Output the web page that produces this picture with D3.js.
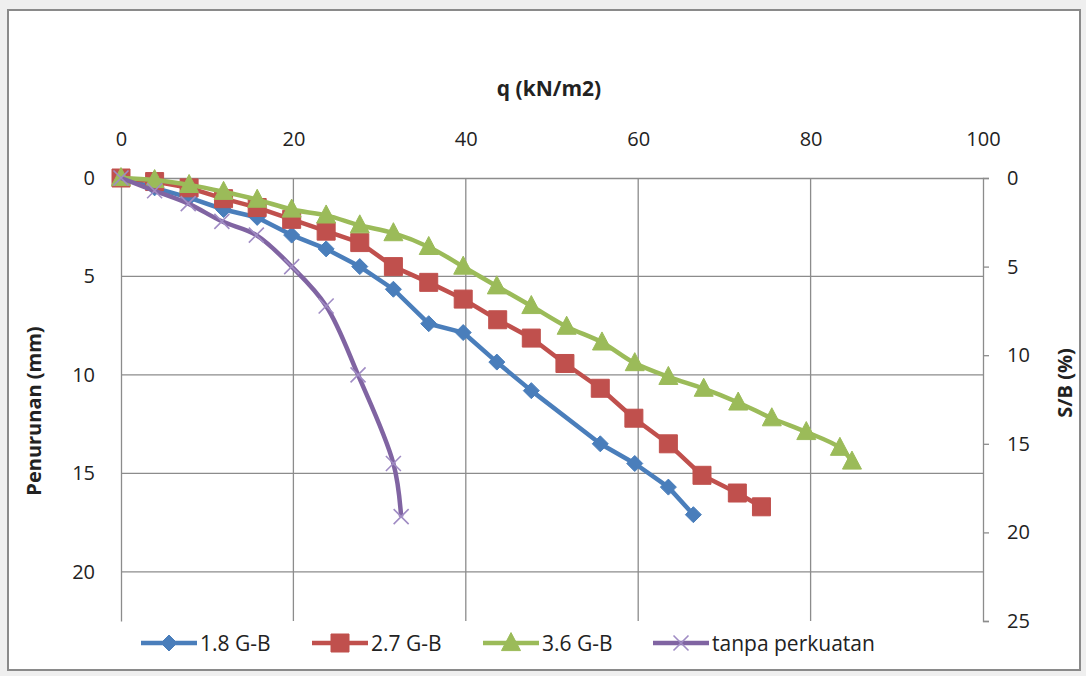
<!DOCTYPE html>
<html><head><meta charset="utf-8">
<script src="https://cdn.jsdelivr.net/npm/d3@7"></script>
<style>
html,body{margin:0;padding:0;background:#efefef;}
svg{display:block;}
text{font-family:"Open Sans",Lato,sans-serif;fill:#222;}
</style></head>
<body>
<svg id="chart" width="1086" height="676"></svg>
<script>
// ---- data ----
const xTicks = [0, 20, 40, 60, 80, 100];
const leftTicks = [0, 5, 10, 15, 20];
const rightTicks = [0, 5, 10, 15, 20, 25];

const q18 = [0, 3.9, 7.9, 11.9, 15.8, 19.8, 23.8, 27.7, 31.6, 35.7, 39.7, 43.6, 47.6, 55.6, 59.6, 63.5, 66.4];
const s18 = [0, 0.5, 1.0, 1.6, 2.0, 2.9, 3.6, 4.5, 5.65, 7.4, 7.85, 9.35, 10.8, 13.5, 14.5, 15.7, 17.1];

const q27 = [0, 3.9, 7.9, 11.9, 15.8, 19.8, 23.8, 27.7, 31.6, 35.7, 39.7, 43.7, 47.6, 51.5, 55.6, 59.5, 63.5, 67.4, 71.5, 74.3];
const s27 = [0, 0.18, 0.5, 1.05, 1.5, 2.1, 2.7, 3.28, 4.5, 5.3, 6.15, 7.2, 8.13, 9.42, 10.68, 12.2, 13.5, 15.1, 16.0, 16.7];

const q36 = [0, 3.9, 7.9, 11.9, 15.8, 19.8, 23.8, 27.7, 31.6, 35.7, 39.7, 43.6, 47.6, 51.7, 55.8, 59.6, 63.5, 67.6, 71.6, 75.5, 79.5, 83.4, 84.8];
const s36 = [0, 0.1, 0.35, 0.7, 1.1, 1.6, 1.9, 2.4, 2.8, 3.5, 4.5, 5.5, 6.5, 7.55, 8.35, 9.4, 10.1, 10.7, 11.4, 12.2, 12.9, 13.7, 14.4];

const qTP = [0, 3.9, 7.8, 11.7, 15.7, 19.8, 23.8, 27.5, 31.6, 32.5];
const sTP = [0, 0.65, 1.3, 2.2, 2.9, 4.5, 6.5, 10.0, 14.5, 17.2];

const seriesNames = ["1.8 G-B", "2.7 G-B", "3.6 G-B", "tanpa perkuatan"];
const seriesColors = ["#4a7ebb", "#c0504d", "#9bbb59", "#8064a2"];
const seriesMarkers = ["diamond", "square", "triangle", "x"];

// ---- layout ----
const svg = d3.select("#chart");
const L = 121, R = 983, T = 178, B = 621;
const x = d3.scaleLinear().domain([0, 100]).range([L, R]);
const yL = d3.scaleLinear().domain([0, 22.5]).range([T, B]);
const yR = d3.scaleLinear().domain([0, 25]).range([T, B]);

// frame
svg.append("rect").attr("x", 8).attr("y", 10).attr("width", 1072).attr("height", 660)
  .attr("fill", "#fff").attr("stroke", "#8a8a8a").attr("stroke-width", 2);

const gridColor = "#8c8c8c";
const tickFont = 20;
// gridlines
svg.append("g").selectAll("line").data(leftTicks.filter(d => d > 0)).join("line")
  .attr("x1", L).attr("x2", R).attr("y1", d => yL(d)).attr("y2", d => yL(d))
  .attr("stroke", gridColor).attr("stroke-width", 1.3);
svg.append("g").selectAll("line").data(xTicks.filter(d => d > 0 && d < 100)).join("line")
  .attr("y1", T).attr("y2", B).attr("x1", d => x(d)).attr("x2", d => x(d))
  .attr("stroke", gridColor).attr("stroke-width", 1.3);

// top axis
const gTop = svg.append("g").attr("transform", `translate(0,${T})`)
  .call(d3.axisTop(x).tickValues(xTicks).tickSize(0).tickPadding(32).tickFormat(d3.format("d")));
gTop.select(".domain").attr("stroke", gridColor).attr("stroke-width", 1.3);
gTop.selectAll("text").attr("font-size", tickFont).attr("font-family", "Open Sans").attr("fill", "#222");

// left axis
const gLeft = svg.append("g").attr("transform", `translate(${L},0)`)
  .call(d3.axisLeft(yL).tickValues(leftTicks).tickSize(0).tickPadding(26).tickFormat(d3.format("d")));
gLeft.select(".domain").attr("stroke", gridColor).attr("stroke-width", 1.3);
gLeft.selectAll("text").attr("font-size", tickFont).attr("font-family", "Open Sans").attr("fill", "#222");

// right axis
const gRight = svg.append("g").attr("transform", `translate(${R},0)`)
  .call(d3.axisRight(yR).tickValues(rightTicks).tickSize(6).tickPadding(18).tickFormat(d3.format("d")));
gRight.select(".domain").attr("stroke", gridColor).attr("stroke-width", 1.3);
gRight.selectAll("line").attr("stroke", gridColor).attr("stroke-width", 1.3);
gRight.selectAll("text").attr("font-size", tickFont).attr("font-family", "Open Sans").attr("fill", "#222");

// axis titles
svg.append("text").attr("x", 549).attr("y", 96).attr("text-anchor", "middle")
  .attr("font-size", 21).attr("font-weight", "bold").text("q (kN/m2)");
svg.append("text").attr("transform", "translate(41,411) rotate(-90)").attr("text-anchor", "middle")
  .attr("font-size", 20).attr("font-weight", "bold").text("Penurunan (mm)");
svg.append("text").attr("transform", "translate(1072,383) rotate(-90)").attr("text-anchor", "middle")
  .attr("font-size", 20).attr("font-weight", "bold").text("S/B (%)");

// marker path generator
function markerPath(type, s) {
  if (type === "diamond") return `M0,${-s}L${s},0L0,${s}L${-s},0Z`;
  if (type === "square") return `M${-s},${-s}H${s}V${s}H${-s}Z`;
  if (type === "triangle") return `M0,${-s * 1.1}L${s},${s * 0.8}L${-s},${s * 0.8}Z`;
  return `M${-s},${-s}L${s},${s}M${s},${-s}L${-s},${s}`;
}
const markerSize = [8, 9, 9.5, 7.5];

const allSeries = [
  { q: q18, s: s18, smooth: false },
  { q: q27, s: s27, smooth: false },
  { q: q36, s: s36, smooth: true },
  { q: qTP, s: sTP, smooth: true }
];

allSeries.forEach((ser, i) => {
  const pts = ser.q.map((q, j) => [q, ser.s[j]]);
  const line = d3.line().x(d => x(d[0])).y(d => yL(d[1]))
    .curve(ser.smooth ? d3.curveCatmullRom.alpha(0.5) : d3.curveLinear);
  const g = svg.append("g");
  g.append("path").attr("d", line(pts)).attr("fill", "none")
    .attr("stroke", seriesColors[i]).attr("stroke-width", 4.5).attr("stroke-linejoin", "round");
  const m = g.selectAll("path.m").data(pts).join("path").attr("class", "m")
    .attr("transform", d => `translate(${x(d[0])},${yL(d[1])})`)
    .attr("d", markerPath(seriesMarkers[i], markerSize[i]));
  if (seriesMarkers[i] === "x") {
    m.attr("fill", "none").attr("stroke", "#a08cc4").attr("stroke-width", 1.6);
  } else {
    m.attr("fill", seriesColors[i]).attr("stroke", seriesColors[i]).attr("stroke-width", 1);
  }
});

// legend
const legX = [141, 312, 483, 653];
const legY = 643;
seriesNames.forEach((name, i) => {
  const g = svg.append("g").attr("transform", `translate(${legX[i]},${legY})`);
  g.append("line").attr("x1", 0).attr("x2", 56).attr("y1", 0).attr("y2", 0)
    .attr("stroke", seriesColors[i]).attr("stroke-width", 4.5);
  const mk = g.append("path").attr("transform", "translate(28,0)")
    .attr("d", markerPath(seriesMarkers[i], markerSize[i]));
  if (seriesMarkers[i] === "x") mk.attr("fill", "none").attr("stroke", "#a08cc4").attr("stroke-width", 1.6);
  else mk.attr("fill", seriesColors[i]).attr("stroke", seriesColors[i]);
  g.append("text").attr("x", 59).attr("y", 7.5).attr("font-size", 21).text(name);
});
</script>
</body></html>
